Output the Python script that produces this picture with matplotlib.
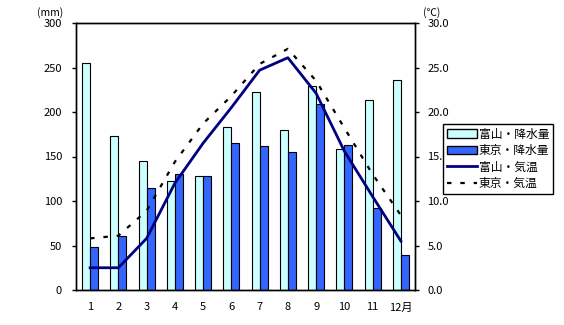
import numpy as np
import matplotlib
matplotlib.use("Agg")
from matplotlib import pyplot as plt
from matplotlib.patches import Patch
from matplotlib.lines import Line2D

plt.rcParams['font.family'] = ['Noto Sans CJK JP', 'DejaVu Sans']

# monthly normals
months = ['1', '2', '3', '4', '5', '6', '7', '8', '9', '10', '11', '12月']
toyama_rain = [255, 173, 145, 122, 128, 183, 222, 180, 229, 158, 213, 236]
tokyo_rain = [48.6, 60.2, 114.5, 130.3, 128.0, 164.9, 161.5, 155.1, 208.5, 163.1, 92.5, 39.6]
toyama_temp = [2.5, 2.5, 5.8, 12.0, 16.5, 20.5, 24.7, 26.1, 22.1, 15.6, 10.5, 5.5]
tokyo_temp = [5.8, 6.1, 8.9, 14.4, 18.7, 21.8, 25.4, 27.1, 23.5, 18.2, 13.0, 8.4]

x = np.arange(len(months))
w = 0.28

fig = plt.figure(figsize=(5.64, 3.25), dpi=100)
ax = fig.add_axes([76/564, 1 - 290/325, (415 - 76)/564, 267/325])
ax2 = ax.twinx()

# precipitation bars (left axis)
ax.bar(x - w/2, toyama_rain, w, color='#CCFFFF', edgecolor='black', linewidth=0.8)
ax.bar(x + w/2, tokyo_rain, w, color='#3366FF', edgecolor='black', linewidth=0.8)

# temperature lines (right axis)
ax2.plot(x, toyama_temp, color='#000080', lw=2)
ax2.plot(x, tokyo_temp, color='black', lw=1.6, dashes=(2, 4))

ax.set_xlim(-0.5, 11.5)
ax.set_ylim(0, 300)
ax2.set_ylim(0, 30)
ax.set_yticks(np.arange(0, 301, 50))
ax2.set_yticks(np.arange(0, 31, 5))
ax2.set_yticklabels(['%.1f' % v for v in np.arange(0, 31, 5)])
ax.set_xticks(x)
ax.set_xticklabels(months)

for a in (ax, ax2):
    for s in a.spines.values():
        s.set_linewidth(1)
        s.set_color('black')
ax.tick_params(axis='x', length=0, pad=9, labelsize=8)
ax.tick_params(axis='y', length=3, width=1, pad=7, labelsize=8)
ax2.tick_params(axis='y', length=3, width=1, pad=6, labelsize=8)

fig.text(50/564, 1 - 13/325, '(mm)', fontsize=7.5, ha='center', va='center')
fig.text(432/564, 1 - 13/325, '(℃)', fontsize=7.5, ha='center', va='center')

handles = [
    Patch(facecolor='#CCFFFF', edgecolor='black', linewidth=1),
    Patch(facecolor='#3366FF', edgecolor='black', linewidth=1),
    Line2D([], [], color='#000080', lw=2),
    Line2D([], [], color='black', lw=1.6, dashes=(2, 4)),
]
labels = ['富山・降水量', '東京・降水量', '富山・気温', '東京・気温']
leg = fig.legend(handles, labels, loc='upper left',
                 bbox_to_anchor=(443/564, 1 - 124/325), fontsize=8.5,
                 handlelength=2.6, handleheight=0.7, handletextpad=0.15,
                 labelspacing=0.3, borderpad=0.3, borderaxespad=0,
                 fancybox=False, framealpha=1, edgecolor='black')
leg.get_frame().set_linewidth(1)

fig.savefig('out.png', dpi=100)
